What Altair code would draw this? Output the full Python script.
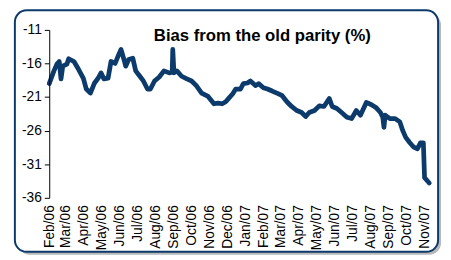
import altair as alt
import pandas as pd

dates = [
    "2006-02-01", "2006-02-09", "2006-02-14", "2006-02-18", "2006-02-21", "2006-02-24",
    "2006-03-03", "2006-03-06", "2006-03-15", "2006-03-23", "2006-03-31", "2006-04-05",
    "2006-04-12", "2006-04-19", "2006-04-25", "2006-04-30", "2006-05-05", "2006-05-12",
    "2006-05-17", "2006-05-24", "2006-05-29", "2006-06-03", "2006-06-08", "2006-06-11",
    "2006-06-16", "2006-06-23", "2006-06-28", "2006-07-05", "2006-07-11", "2006-07-18",
    "2006-07-23", "2006-07-30", "2006-08-07", "2006-08-15", "2006-08-24", "2006-08-29",
    "2006-08-30", "2006-09-01", "2006-09-06", "2006-09-14", "2006-09-23", "2006-10-01",
    "2006-10-09", "2006-10-18", "2006-10-29", "2006-11-08", "2006-11-15", "2006-11-22",
    "2006-11-28", "2006-12-03", "2006-12-10", "2006-12-15", "2006-12-23", "2006-12-28",
    "2007-01-04", "2007-01-09", "2007-01-18", "2007-01-23", "2007-01-31", "2007-02-07",
    "2007-02-15", "2007-02-25", "2007-03-04", "2007-03-12", "2007-03-20", "2007-03-29",
    "2007-04-06", "2007-04-13", "2007-04-19", "2007-04-28", "2007-05-06", "2007-05-14",
    "2007-05-23", "2007-05-28", "2007-06-05", "2007-06-13", "2007-06-22", "2007-06-30",
    "2007-07-08", "2007-07-15", "2007-07-25", "2007-08-02", "2007-08-11", "2007-08-18",
    "2007-08-22", "2007-08-24", "2007-08-26", "2007-09-03", "2007-09-12", "2007-09-20",
    "2007-09-25", "2007-09-30", "2007-10-07", "2007-10-13", "2007-10-20", "2007-10-25",
    "2007-10-30", "2007-11-01", "2007-11-06", "2007-11-09",
]
bias = [
    -19.0, -17.1, -16.1, -15.7, -18.3, -16.4,
    -16.1, -15.3, -15.7, -16.9, -18.2, -19.8,
    -20.4, -18.9, -18.2, -17.4, -18.3, -18.2,
    -15.7, -16.0, -14.9, -13.9, -15.4, -16.4,
    -15.4, -15.2, -17.1, -17.9, -18.6, -19.8,
    -19.8, -18.6, -18.0, -17.1, -17.4, -17.3,
    -13.9, -17.4, -17.1, -17.9, -18.3, -18.6,
    -19.3, -20.4, -20.9, -22.0, -21.9, -22.0,
    -21.7, -21.2, -20.5, -19.8, -19.8, -19.0,
    -18.9, -18.6, -19.3, -19.0, -19.6, -19.8,
    -20.1, -20.5, -20.8, -21.7, -22.4, -23.0,
    -23.3, -23.9, -23.3, -23.0, -22.3, -22.4,
    -21.2, -22.4, -22.7, -23.3, -24.0, -24.2,
    -23.0, -23.7, -21.8, -22.1, -22.6, -23.3,
    -24.0, -25.5, -23.7, -24.2, -24.2, -24.7,
    -26.0, -27.0, -27.8, -28.4, -28.7, -27.8,
    -27.8, -33.0, -33.5, -33.8,
]
month_ticks = [
    "2006-02-01", "2006-03-01", "2006-04-01", "2006-05-01", "2006-06-01", "2006-07-01",
    "2006-08-01", "2006-09-01", "2006-10-01", "2006-11-01", "2006-12-01", "2007-01-01",
    "2007-02-01", "2007-03-01", "2007-04-01", "2007-05-01", "2007-06-01", "2007-07-01",
    "2007-08-01", "2007-09-01", "2007-10-01", "2007-11-01",
]
y_ticks = [-36, -31, -26, -21, -16, -11]
title_text = "Bias from the old parity (%)"

df = pd.DataFrame({"date": pd.to_datetime(dates), "bias": bias})
one = pd.DataFrame({"k": [0]})

FONT = "Liberation Sans"
NAVY = "#0b3a6b"

shadow = alt.Chart(one).mark_rect(
    fill="#b8b8b8", cornerRadius=12, clip=False
).encode(
    x=alt.value(-32), x2=alt.value(399), y=alt.value(-17), y2=alt.value(229)
)

frame = alt.Chart(one).mark_rect(
    fill="white", stroke=NAVY, strokeWidth=2, cornerRadius=12, clip=False
).encode(
    x=alt.value(-35), x2=alt.value(396), y=alt.value(-20), y2=alt.value(226)
)

line = alt.Chart(df).mark_line(
    color=NAVY, strokeWidth=4.8, strokeJoin="round", strokeCap="round"
).encode(
    x=alt.X(
        "date:T",
        scale=alt.Scale(domain=["2006-02-01", "2007-11-09"], nice=False),
        axis=alt.Axis(
            values=month_ticks, format="%b/%y", labelAngle=270, title=None,
            domain=False, ticks=False, grid=False, labelPadding=7,
            labelFont=FONT, labelFontSize=14, labelColor="black",
            labelOverlap=False, labelFlush=False, zindex=1,
        ),
    ),
    y=alt.Y(
        "bias:Q",
        scale=alt.Scale(domain=[-36, -11], nice=False, zero=False),
        axis=alt.Axis(
            values=y_ticks, title=None, grid=False, domainColor="black",
            tickColor="black", tickSize=5, labelPadding=3,
            labelExpr="'' + datum.value",
            labelFont=FONT, labelFontSize=14, labelColor="black",
            labelFlush=False, zindex=1,
        ),
    ),
)

title = alt.Chart(one).mark_text(
    text=title_text, font=FONT, fontSize=17, fontWeight="bold",
    color="black", align="center", baseline="alphabetic",
).encode(x=alt.value(217), y=alt.value(11))

chart = alt.layer(shadow, frame, line, title).properties(
    width=387, height=171,
    autosize=alt.AutoSizeParams(type="none"),
    padding={"left": 42, "top": 20, "right": 14, "bottom": 61},
    background="white",
).configure_view(stroke=None)

chart.save("out.html", embed_options={"renderer": "svg", "actions": False})
